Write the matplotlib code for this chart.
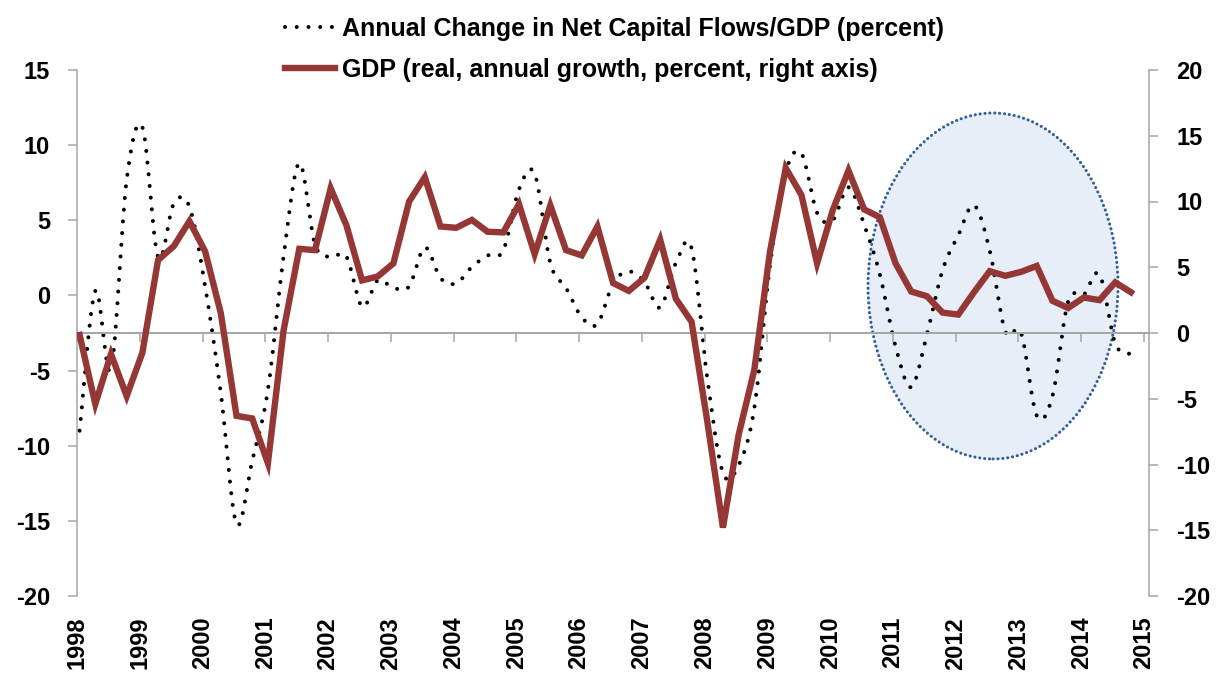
import numpy as np
import matplotlib
matplotlib.use("Agg")
import matplotlib.pyplot as plt
from matplotlib.patches import Ellipse

plt.rcParams['font.family'] = ['Liberation Sans', 'DejaVu Sans']
plt.rcParams['font.weight'] = 'bold'

# ---------------- data ----------------
years = list(range(1998, 2016))
year_labels = [str(y) for y in years]
start_year = 1998

series1_label = "Annual Change in Net Capital Flows/GDP (percent)"
series2_label = "GDP (real, annual growth, percent, right axis)"

# quarterly, 1998Q1 .. 2014Q4 (left axis)
capital_flows = [
    -9.0, 0.3, -4.9, 7.7,
    11.2, 2.55, 6.1, 5.9,
    0.6, -6.5, -15.2, -11.0,
    -6.3, 2.6, 8.8, 3.4,
    2.55, 2.6, -0.75, 1.0,
    0.5, 0.6, 3.2, 1.15,
    0.8, 1.9, 2.65, 3.0,
    7.05, 8.1, 2.15, 0.5,
    -1.45, -1.9, 0.8, 1.6,
    0.9, -0.8, 2.15, 3.15,
    -5.5, -11.8, -11.3, -7.5,
    2.0, 8.2, 9.45, 5.5,
    5.0, 7.2, 4.7, 1.4,
    -3.4, -6.1, -2.6, 1.7,
    4.0, 6.0, 3.0, -2.4,
    -2.5, -8.0, -6.7, -0.4,
    0.05, 1.4, -3.2, -3.9,
]

# quarterly, 1998Q1 .. 2014Q4 (right axis)
gdp_growth = [
    -0.15, -5.4, -1.6, -4.8,
    -1.5, 5.55, 6.6, 8.5,
    6.2, 1.5, -6.3, -6.5,
    -9.9, 0.2, 6.4, 6.3,
    11.0, 8.2, 4.0, 4.3,
    5.3, 10.0, 11.85, 8.1,
    8.0, 8.6, 7.7, 7.65,
    9.8, 6.0, 9.7, 6.3,
    5.9, 8.1, 3.8, 3.2,
    4.2, 7.1, 2.6, 0.86,
    -6.7, -14.8, -7.75, -2.8,
    6.2, 12.55, 10.5, 5.3,
    9.35, 12.35, 9.4, 8.8,
    5.3, 3.15, 2.8, 1.55,
    1.4, 3.1, 4.7, 4.35,
    4.65, 5.1, 2.45, 1.9,
    2.7, 2.5, 3.85, 3.1,
]

left_ticks = [-20, -15, -10, -5, 0, 5, 10, 15]
right_ticks = [-20, -15, -10, -5, 0, 5, 10, 15, 20]

# ---------------- helpers ----------------
def smooth(x, y, n=16):
    """Excel-like smoothed line (Catmull-Rom as cubic Bezier)."""
    x = np.asarray(x, float)
    y = np.asarray(y, float)
    P = np.column_stack([x, y])
    out = []
    m = len(P)
    t = np.linspace(0, 1, n, endpoint=False)
    for i in range(m - 1):
        p0 = P[i - 1] if i > 0 else P[i]
        p1 = P[i]
        p2 = P[i + 1]
        p3 = P[i + 2] if i + 2 < m else P[i + 1]
        c1 = p1 + (p2 - p0) / 6.0
        c2 = p2 - (p3 - p1) / 6.0
        tt = t[:, None]
        seg = ((1 - tt) ** 3) * p1 + 3 * ((1 - tt) ** 2) * tt * c1 + 3 * (1 - tt) * tt ** 2 * c2 + tt ** 3 * p2
        out.append(seg)
    out.append(P[-1:])
    arr = np.vstack(out)
    return arr[:, 0], arr[:, 1]

# quarter positions (middle of first month of each quarter)
xq = start_year + np.arange(len(gdp_growth)) / 4.0 + 1.0 / 24.0

# ---------------- figure ----------------
gray = '#A6A6A6'
red = '#953735'
tick_fs = 17

fig = plt.figure(figsize=(12.17, 6.79), dpi=100)
ax = fig.add_axes([77 / 1217, 1 - 596 / 679, (1149 - 77) / 1217, 526 / 679])
ax2 = ax.twinx()

ax.set_xlim(1998, 2015.08)
ax.set_ylim(-20, 15)
ax2.set_ylim(-20, 20)

# highlight ellipse (behind data)
ell = Ellipse((0.8545, 0.5894), 0.2332, 0.6578, transform=ax.transAxes,
              facecolor='#E8EEF7', edgecolor='#34609A', linewidth=2.2,
              linestyle=(0, (0.05, 1.55)), zorder=0)
ell.set_capstyle('round')
ax.add_patch(ell)

sx, sy = smooth(xq, capital_flows)
l1, = ax.plot(sx, sy, color='black', linewidth=2.9, linestyle=(0, (0.01, 2.9)),
              dash_capstyle='round', zorder=3, label=series1_label)
l2, = ax2.plot(xq, gdp_growth, color=red, linewidth=4.6, solid_joinstyle='miter',
               zorder=4, label=series2_label)

# spines
for s in ['top', 'right', 'bottom']:
    ax.spines[s].set_visible(False)
ax.spines['left'].set_color(gray)
ax.spines['left'].set_linewidth(1.1)
for s in ['top', 'left']:
    ax2.spines[s].set_visible(False)
ax2.spines['right'].set_color(gray)
ax2.spines['right'].set_linewidth(1.1)
ax2.spines['bottom'].set_visible(True)
ax2.spines['bottom'].set_position(('data', 0))
ax2.spines['bottom'].set_color(gray)
ax2.spines['bottom'].set_linewidth(1.4)

# y ticks
ax.set_yticks(left_ticks)
ax.set_yticklabels([str(v) for v in left_ticks])
ax.tick_params(axis='y', direction='out', length=6.5, width=1.1, color=gray,
               pad=13, labelsize=tick_fs)
ax2.set_yticks(right_ticks)
ax2.set_yticklabels([str(v) for v in right_ticks])
ax2.tick_params(axis='y', direction='out', length=6.5, width=1.1, color=gray,
                pad=13, labelsize=tick_fs)

# x ticks: marks on the zero line (ax2), labels at bottom (ax)
ax.set_xticks(years)
ax.set_xticklabels(year_labels)
ax.tick_params(axis='x', length=0, pad=15, labelsize=tick_fs, labelrotation=90)
ax2.xaxis.set_visible(True)
ax2.tick_params(axis='x', direction='out', length=6.5, width=1.1, color=gray,
                labelbottom=False, bottom=True, top=False, labeltop=False)

for lab in ax.get_xticklabels() + ax.get_yticklabels() + ax2.get_yticklabels():
    lab.set_fontweight('bold')

leg = fig.legend(handles=[l1, l2], labels=[series1_label, series2_label],
                 loc='center', bbox_to_anchor=(614.5 / 1217, 1 - 49.5 / 679),
                 frameon=False, fontsize=18, handlelength=2.0, handletextpad=0.25,
                 labelspacing=0.69, borderpad=0, borderaxespad=0)
for t in leg.get_texts():
    t.set_fontweight('bold')

fig.savefig('out.png', dpi=100)
